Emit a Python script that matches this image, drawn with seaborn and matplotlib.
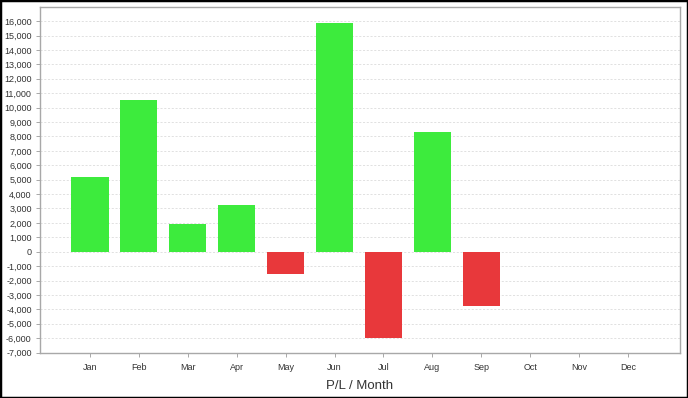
import numpy as np
import pandas as pd
import matplotlib
matplotlib.use('Agg')
import matplotlib.pyplot as plt
import matplotlib.ticker as mticker
import seaborn as sns

# ---- data ----
months = ['Jan', 'Feb', 'Mar', 'Apr', 'May', 'Jun',
          'Jul', 'Aug', 'Sep', 'Oct', 'Nov', 'Dec']
pnl = [5150, 10500, 1900, 3250, -1560, 15870,
       -6020, 8300, -3770, 0, 0, 0]

GREEN = '#3deb3d'
RED = '#e8383b'

df = pd.DataFrame({'month': months, 'pnl': pnl})
df['sign'] = np.where(df['pnl'] >= 0, 'gain', 'loss')

sns.set_style('white')
plt.rcParams['font.family'] = ['Liberation Sans', 'DejaVu Sans']

fig = plt.figure(figsize=(6.88, 3.98), dpi=100)
ax = fig.add_axes([40 / 688, 45 / 398, 640 / 688, 346 / 398])

sns.barplot(data=df, x='month', y='pnl', hue='sign',
            palette={'gain': GREEN, 'loss': RED},
            dodge=False, width=0.76, legend=False, ax=ax,
            edgecolor='none', saturation=1)

ax.set_xlim(-1.02, 12.06)
ax.set_ylim(-7030, 16980)
ax.yaxis.set_major_locator(mticker.MultipleLocator(1000))
ax.yaxis.set_major_formatter(mticker.FuncFormatter(lambda v, p: f'{int(v):,}'))
ax.set_axisbelow(True)
ax.grid(axis='y', color='#dcdcdc', linestyle=(0, (2.5, 2)), linewidth=0.6)

for s in ax.spines.values():
    s.set_color('#a8a8a8')
    s.set_linewidth(1)

ax.tick_params(axis='both', which='major', length=3, width=0.7,
               color='#a8a8a8', labelsize=6.5, labelcolor='#333333', pad=3,
               bottom=True, left=True)
ax.tick_params(axis='x', pad=4)

ax.set_ylabel('')
ax.set_xlabel('P/L / Month', fontsize=9.5, color='#333333', labelpad=6)

# black outer frame
fig.patches.append(plt.Rectangle((0, 0), 1, 1, transform=fig.transFigure,
                                 fill=False, edgecolor='black', linewidth=2.5))

fig.savefig('out.png', dpi=100)
